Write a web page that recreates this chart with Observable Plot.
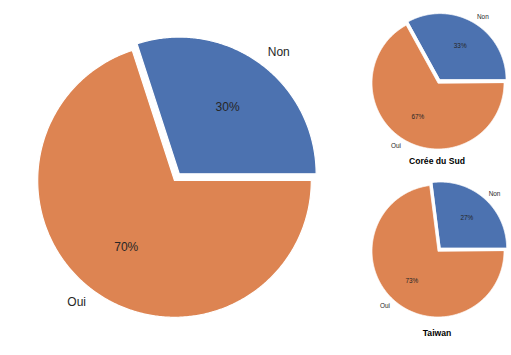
<!DOCTYPE html>
<html>
<head>
<meta charset="utf-8">
<script src="https://cdn.jsdelivr.net/npm/d3@7"></script>
<script src="https://cdn.jsdelivr.net/npm/@observablehq/plot@0.6"></script>
<style>
  html, body { margin: 0; padding: 0; background: #fff; }
  #wrap { position: relative; width: 511px; height: 355px; overflow: hidden; font-family: "Liberation Sans", Arial, sans-serif; }
  .pie { position: absolute; }
  .ttl { position: absolute; font-weight: bold; font-size: 8.6px; line-height: 10px; color: #000; text-align: center; width: 120px; }
</style>
</head>
<body>
<div id="wrap"></div>
<script>
// ---- data ----
const answers = ["Non", "Oui"];
const colors = ["#4c72b0", "#dd8452"];
const pieNames = ["Ensemble", "Corée du Sud", "Taiwan"];
const nonValues = [30, 33, 27];
const ouiValues = [70, 67, 73];

// ---- layout (pixels) ----
const layouts = [
  {left: 3, top: 9, size: 342, font: 12, stroke: 1.2, title: false},
  {left: 354.5, top: 0, size: 165, font: 6.4, stroke: 0.8, title: true, titleTop: 156},
  {left: 354.5, top: 168, size: 165, font: 6.4, stroke: 0.8, title: true, titleTop: 328}
];
const explode = 0.06, labelDist = 1.1, pctDist = 0.6, ext = 1.25;

function pieData(vals) {
  const total = d3.sum(vals);
  let a = 0;
  const slices = [], texts = [];
  vals.forEach((v, i) => {
    const a0 = a, a1 = a + 2 * Math.PI * v / total;
    a = a1;
    const mid = (a0 + a1) / 2;
    const off = i === 0 ? explode : 0;
    const cx = off * Math.cos(mid), cy = off * Math.sin(mid);
    const n = Math.max(8, Math.ceil((a1 - a0) / 0.01));
    slices.push({answer: answers[i], x: cx, y: cy});
    for (let k = 0; k <= n; k++) {
      const t = a0 + (a1 - a0) * k / n;
      slices.push({answer: answers[i], x: cx + Math.cos(t), y: cy + Math.sin(t)});
    }
    const lx = cx + labelDist * Math.cos(mid), ly = cy + labelDist * Math.sin(mid);
    texts.push({kind: "label", text: answers[i], x: lx, y: ly, anchor: lx >= 0 ? "start" : "end"});
    texts.push({kind: "pct", text: Math.round(100 * v / total) + "%", x: cx + pctDist * Math.cos(mid), y: cy + pctDist * Math.sin(mid), anchor: "middle"});
  });
  return {slices, texts};
}

const wrap = document.getElementById("wrap");
pieNames.forEach((name, p) => {
  const L = layouts[p];
  const {slices, texts} = pieData([nonValues[p], ouiValues[p]]);
  const chart = Plot.plot({
    width: L.size, height: L.size, margin: 0,
    x: {domain: [-ext, ext], axis: null},
    y: {domain: [-ext, ext], axis: null},
    color: {domain: answers, range: colors},
    style: {fontFamily: "'Liberation Sans', Arial, sans-serif", background: "transparent", overflow: "visible"},
    marks: [
      Plot.line(slices, {x: "x", y: "y", z: "answer", fill: "answer", stroke: "white", strokeWidth: L.stroke, curve: "linear-closed"}),
      Plot.text(texts.filter(d => d.anchor === "start"), {x: "x", y: "y", text: "text", textAnchor: "start", fontSize: L.font, fill: "#262626"}),
      Plot.text(texts.filter(d => d.anchor === "end"), {x: "x", y: "y", text: "text", textAnchor: "end", fontSize: L.font, fill: "#262626"}),
      Plot.text(texts.filter(d => d.anchor === "middle"), {x: "x", y: "y", text: "text", textAnchor: "middle", fontSize: L.font, fill: "#262626"})
    ]
  });
  chart.classList.add("pie");
  chart.style.left = L.left + "px";
  chart.style.top = L.top + "px";
  wrap.appendChild(chart);
  if (L.title) {
    const t = document.createElement("div");
    t.className = "ttl";
    t.textContent = name;
    t.style.left = (L.left + L.size / 2 - 60) + "px";
    t.style.top = L.titleTop + "px";
    wrap.appendChild(t);
  }
});
</script>
</body>
</html>
